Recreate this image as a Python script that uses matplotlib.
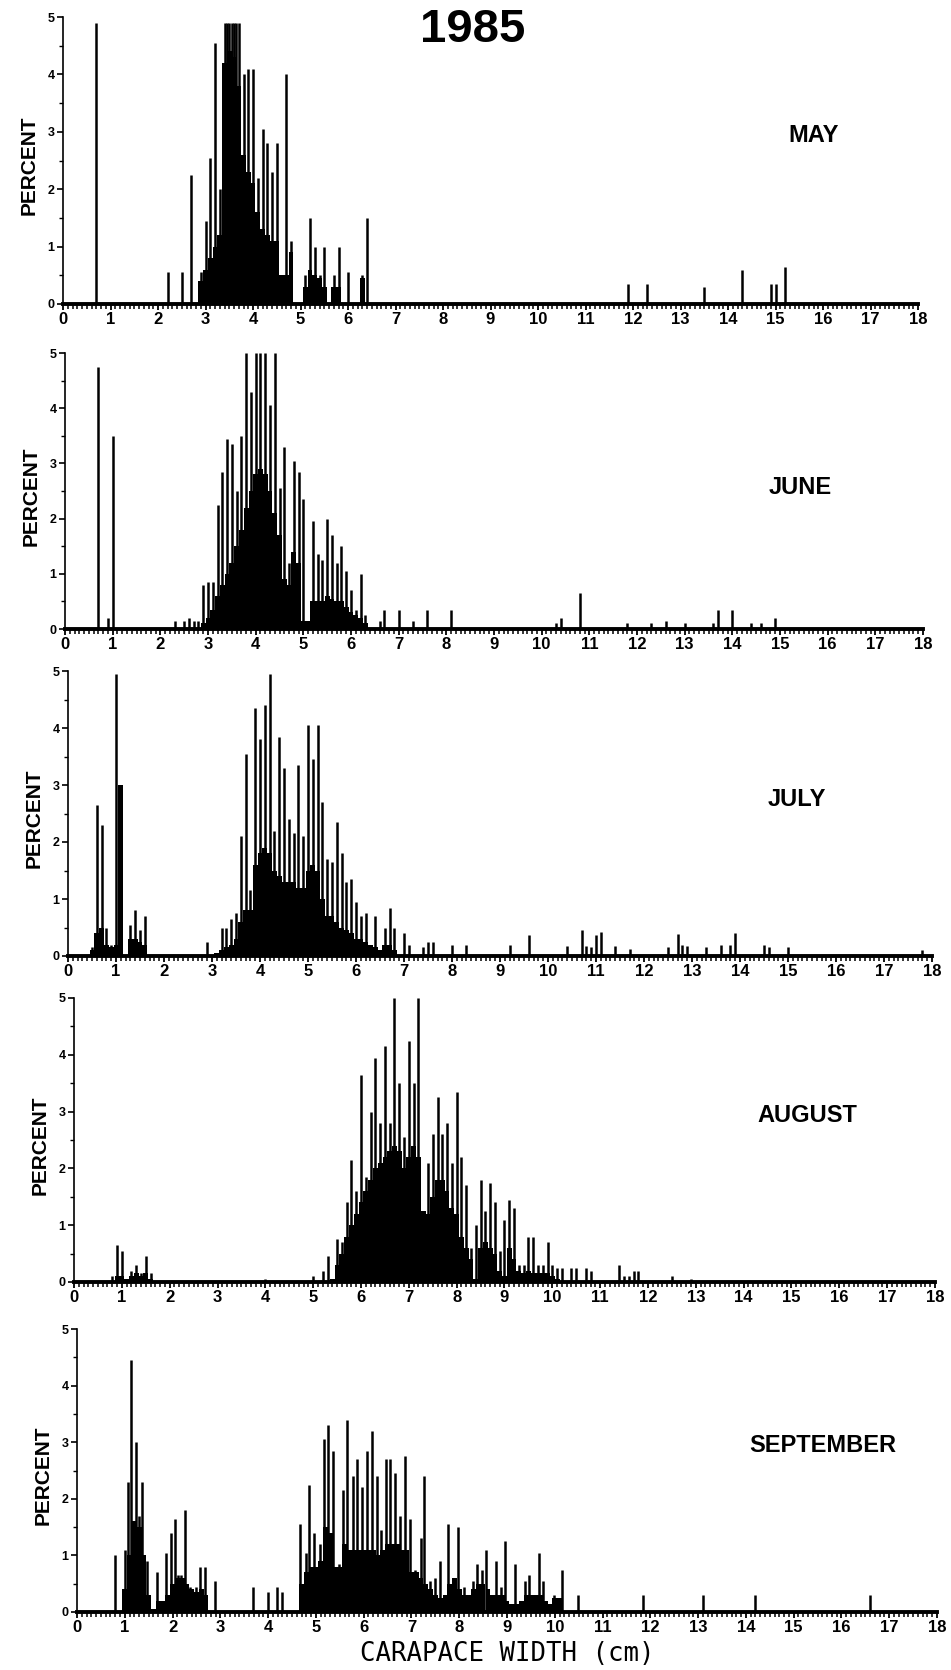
import matplotlib
matplotlib.use("Agg")
import matplotlib.pyplot as plt
from matplotlib.ticker import MultipleLocator
import numpy as np

# carapace width histograms, percent per size class, 1985 samples
months = ["MAY", "JUNE", "JULY", "AUGUST", "SEPTEMBER"]

# ---- May ----
may_spike_x = [0.7, 2.2, 2.5, 2.7, 2.9, 3.0, 3.1, 3.2, 3.3, 3.4, 3.45, 3.5, 3.55, 3.6, 3.65, 3.7,
               3.8, 3.9, 4.0, 4.1, 4.2, 4.3, 4.4, 4.5, 4.7, 4.8, 5.1, 5.2, 5.3, 5.4, 5.5, 5.7,
               5.8, 6.0, 6.3, 6.4, 11.9, 12.3, 13.5, 14.3, 14.9, 15.0, 15.2]
may_spike_h = [4.9, 0.55, 0.55, 2.25, 0.55, 1.45, 2.55, 4.55, 2.0, 4.9, 4.9, 4.9, 4.9, 4.9, 4.9, 4.9,
               4.0, 4.1, 4.1, 2.2, 3.05, 2.8, 2.3, 2.8, 4.0, 1.1, 0.5, 1.5, 1.0, 0.5, 1.0, 0.5,
               1.0, 0.55, 0.5, 1.5, 0.35, 0.35, 0.3, 0.6, 0.35, 0.35, 0.65]
may_body = [(2.9, [0.4, 0.6, 0.8, 1.0, 1.2, 4.2, 4.4, 4.3, 3.8, 2.6, 2.3, 2.1, 1.6, 1.3, 1.2,
                   1.1, 1.1, 0.5, 0.5, 0.9]),
            (5.1, [0.3, 0.6, 0.5, 0.45, 0.3, 0.0, 0.3, 0.3]),
            (6.3, [0.45])]

# ---- June ----
jun_spike_x = [0.7, 0.9, 1.0, 2.3, 2.5, 2.6, 2.7, 2.8, 2.9, 3.0, 3.1, 3.2, 3.3, 3.4, 3.5, 3.6,
               3.7, 3.8, 3.9, 4.0, 4.1, 4.2, 4.3, 4.4, 4.5, 4.6, 4.7, 4.8, 4.9, 5.0, 5.2, 5.3,
               5.4, 5.5, 5.6, 5.7, 5.8, 5.9, 6.0, 6.1, 6.2, 6.3, 6.6, 6.7, 7.0, 7.3, 7.6, 8.1,
               10.3, 10.4, 10.8, 11.8, 12.3, 12.6, 13.0, 13.6, 13.7, 14.0, 14.4, 14.6, 14.9]
jun_spike_h = [4.75, 0.2, 3.5, 0.15, 0.15, 0.2, 0.15, 0.15, 0.8, 0.85, 0.85, 2.25, 2.85, 3.45, 3.35, 2.5,
               3.5, 5.0, 4.3, 5.0, 5.0, 5.0, 4.05, 5.0, 2.55, 3.3, 1.2, 3.05, 2.85, 2.35, 1.95, 1.35,
               1.25, 2.0, 1.7, 1.2, 1.5, 1.05, 0.7, 0.35, 1.0, 0.25, 0.15, 0.35, 0.35, 0.15, 0.35, 0.35,
               0.1, 0.2, 0.65, 0.1, 0.1, 0.15, 0.1, 0.1, 0.35, 0.35, 0.1, 0.1, 0.2]
jun_body = [(2.9, [0.1, 0.2, 0.35, 0.6, 0.8, 1.0, 1.2, 1.5, 1.8, 2.2, 2.5, 2.8, 2.9, 2.8, 2.5,
                   2.1, 1.7, 0.9, 0.8, 1.4, 1.2, 0.15, 0.15, 0.5, 0.5, 0.5, 0.6, 0.55, 0.5, 0.5,
                   0.4, 0.3, 0.25, 0.2, 0.1])]

# ---- July ----
jul_spike_x = [0.5, 0.6, 0.7, 0.8, 0.9, 1.0, 1.3, 1.4, 1.5, 1.6, 2.9, 3.2, 3.3, 3.4, 3.5, 3.6,
               3.7, 3.8, 3.9, 4.0, 4.1, 4.2, 4.3, 4.4, 4.5, 4.6, 4.7, 4.8, 4.9, 5.0, 5.1, 5.2,
               5.3, 5.4, 5.5, 5.6, 5.7, 5.8, 5.9, 6.0, 6.1, 6.2, 6.4, 6.6, 6.7, 6.8, 7.0, 7.1,
               7.4, 7.5, 7.6, 8.0, 8.3, 9.2, 9.6, 10.4, 10.7, 10.8, 10.9, 11.0, 11.1, 11.4, 11.7,
               12.5, 12.7, 12.8, 12.9, 13.3, 13.6, 13.8, 13.9, 14.5, 14.6, 15.0, 17.8]
jul_spike_h = [0.15, 2.65, 2.3, 0.5, 0.2, 4.95, 0.55, 0.8, 0.45, 0.7, 0.25, 0.5, 0.5, 0.65, 0.75, 2.1,
               3.55, 1.15, 4.35, 3.8, 4.4, 4.95, 2.2, 3.85, 3.3, 2.4, 2.15, 3.35, 2.1, 4.05, 3.45, 4.05,
               2.7, 1.7, 1.65, 2.35, 1.8, 1.3, 1.35, 0.95, 0.7, 0.75, 0.7, 0.5, 0.85, 0.5, 0.4, 0.2,
               0.15, 0.25, 0.25, 0.2, 0.2, 0.19, 0.37, 0.18, 0.45, 0.18, 0.15, 0.37, 0.42, 0.18, 0.13,
               0.15, 0.38, 0.2, 0.18, 0.15, 0.2, 0.2, 0.4, 0.2, 0.15, 0.15, 0.1]
jul_body = [(0.5, [0.1, 0.4, 0.5, 0.2, 0.15, 0.2, 3.0, 0.0, 0.3, 0.3, 0.25, 0.2]),
            (3.1, [0.05, 0.1, 0.15, 0.2, 0.3, 0.6, 0.8, 0.8, 1.6, 1.8, 1.9, 1.8, 1.5, 1.4, 1.3,
                   1.3, 1.3, 1.2, 1.2, 1.5, 1.6, 1.5, 1.0, 0.7, 0.7, 0.6, 0.5, 0.45, 0.4, 0.3,
                   0.3, 0.25, 0.2, 0.15, 0.1, 0.2, 0.2, 0.1])]

# ---- August ----
aug_spike_x = [0.8, 0.9, 1.0, 1.2, 1.3, 1.4, 1.5, 1.6, 4.0, 5.0, 5.2, 5.3, 5.5, 5.6, 5.7, 5.8,
               5.9, 6.0, 6.1, 6.2, 6.3, 6.4, 6.5, 6.6, 6.7, 6.8, 6.9, 7.0, 7.1, 7.2, 7.3, 7.4,
               7.5, 7.6, 7.7, 7.8, 7.9, 8.0, 8.1, 8.2, 8.3, 8.4, 8.5, 8.6, 8.7, 8.8, 8.9, 9.0,
               9.1, 9.2, 9.3, 9.4, 9.5, 9.6, 9.7, 9.8, 9.9, 10.0, 10.1, 10.2, 10.4, 10.5, 10.7,
               10.8, 11.4, 11.5, 11.6, 11.7, 11.8, 12.5, 12.9]
aug_spike_h = [0.1, 0.65, 0.55, 0.2, 0.3, 0.15, 0.45, 0.15, 0.05, 0.1, 0.2, 0.45, 0.75, 0.7, 1.4, 2.15,
               1.6, 3.65, 1.85, 3.0, 3.95, 2.8, 4.15, 2.8, 5.0, 3.5, 2.55, 4.25, 3.5, 5.0, 1.25, 2.1,
               2.6, 3.25, 2.6, 2.8, 2.1, 3.35, 2.2, 1.7, 0.6, 1.0, 1.8, 1.25, 1.75, 1.4, 0.55, 1.1,
               1.45, 1.3, 0.3, 0.3, 0.8, 0.8, 0.3, 0.3, 0.7, 0.3, 0.25, 0.25, 0.25, 0.25, 0.25,
               0.2, 0.3, 0.1, 0.1, 0.2, 0.2, 0.1, 0.05]
aug_body = [(0.9, [0.1, 0.1, 0.05, 0.1, 0.15, 0.1, 0.15, 0.05]),
            (5.4, [0.05, 0.3, 0.5, 0.8, 1.0, 1.2, 1.4, 1.6, 1.8, 2.0, 2.1, 2.2, 2.3, 2.4, 2.3,
                   2.0, 2.2, 2.4, 2.2, 1.25, 1.2, 1.5, 1.8, 1.8, 1.6, 1.3, 1.2, 0.8, 0.6, 0.4,
                   0.05, 0.6, 0.7, 0.6, 0.5, 0.2, 0.1, 0.6, 0.4, 0.2, 0.15, 0.2, 0.15, 0.15, 0.15,
                   0.15, 0.1, 0.05])]

# ---- September ----
sep_spike_x = [0.8, 1.0, 1.06, 1.13, 1.24, 1.3, 1.36, 1.47, 1.68, 1.75, 1.8, 1.87, 1.97, 2.06, 2.12,
               2.17, 2.26, 2.36, 2.4, 2.5, 2.57, 2.68, 2.89, 3.68, 3.99, 4.19, 4.29, 4.67, 4.79,
               4.86, 4.97, 5.08, 5.17, 5.25, 5.36, 5.48, 5.57, 5.66, 5.77, 5.87, 5.97, 6.07, 6.17,
               6.27, 6.37, 6.47, 6.56, 6.66, 6.77, 6.87, 6.97, 7.08, 7.19, 7.27, 7.39, 7.49, 7.59,
               7.77, 7.98, 8.09, 8.28, 8.37, 8.48, 8.57, 8.76, 8.88, 8.96, 9.16, 9.38, 9.47, 9.66,
               9.75, 9.98, 10.16, 10.49, 11.85, 13.1, 14.2, 16.6]
sep_spike_h = [1.0, 1.1, 2.3, 4.45, 3.0, 1.7, 2.3, 0.9, 0.7, 0.2, 0.2, 1.05, 1.4, 1.65, 0.65,
               0.65, 1.8, 0.45, 0.4, 0.45, 0.8, 0.8, 0.55, 0.45, 0.35, 0.45, 0.35, 1.55, 1.05,
               2.25, 1.4, 1.2, 3.05, 3.3, 2.85, 0.85, 2.15, 3.4, 2.4, 2.7, 2.2, 2.85, 3.2,
               2.4, 1.45, 2.7, 2.7, 2.45, 1.7, 2.75, 1.65, 0.75, 1.3, 2.4, 0.55, 0.6, 0.9,
               1.55, 1.5, 0.45, 0.55, 0.85, 0.75, 1.1, 0.9, 0.45, 1.25, 0.85, 0.55, 0.65, 1.05,
               0.55, 0.3, 0.75, 0.3, 0.3, 0.3, 0.3, 0.3]
sep_body = [(1.0, [0.4, 1.0, 1.6, 1.5, 1.0, 0.3, 0.05, 0.2, 0.2, 0.3, 0.5, 0.6, 0.6, 0.5, 0.4,
                   0.35, 0.4, 0.3]),
            (4.7, [0.5, 0.7, 0.8, 0.8, 0.9, 1.5, 1.4, 0.8, 0.8, 1.2, 1.1, 1.1, 1.1, 1.1, 1.1,
                   1.1, 1.0, 1.1, 1.2, 1.2, 1.2, 1.1, 1.1, 0.7, 0.7, 0.6, 0.5, 0.4, 0.3, 0.25,
                   0.3, 0.5, 0.6, 0.4, 0.3, 0.3, 0.4, 0.5, 0.5, 0.4, 0.3, 0.3, 0.3, 0.2, 0.15,
                   0.15, 0.2, 0.3, 0.3, 0.3, 0.3, 0.2, 0.15, 0.25, 0.25])]

spikes_x = [may_spike_x, jun_spike_x, jul_spike_x, aug_spike_x, sep_spike_x]
spikes_h = [may_spike_h, jun_spike_h, jul_spike_h, aug_spike_h, sep_spike_h]
bodies = [may_body, jun_body, jul_body, aug_body, sep_body]

W, H = 951, 1670
# panel frames in pixels: left, right, top (y=5), bottom (y=0)
frames = [(63, 918, 17, 304), (65, 923, 353, 629), (68, 932, 671, 956),
          (74, 935, 998, 1282), (77, 937, 1329, 1612)]
label_pos = [(814, 136), (800, 488), (797, 800), (807, 1116), (823, 1446)]

bold = ['Liberation Sans', 'DejaVu Sans']
narrow = ['Liberation Sans Narrow', 'Liberation Sans', 'DejaVu Sans']

fig = plt.figure(figsize=(W / 100, H / 100), dpi=100)

for i in range(5):
    l, r, t, b = frames[i]
    ax = fig.add_axes([l / W, 1 - b / H, (r - l) / W, (b - t) / H])
    for start, vals in bodies[i]:
        xs = start + 0.1 * np.arange(len(vals))
        ax.bar(xs, vals, width=0.1, color='black', linewidth=0)
    ax.vlines(spikes_x[i], 0, spikes_h[i], color='black', linewidth=1.8)

    ax.set_xlim(0, 18)
    ax.set_ylim(0, 5)
    ax.spines['top'].set_visible(False)
    ax.spines['right'].set_visible(False)
    ax.spines['left'].set_linewidth(1.2)
    ax.spines['bottom'].set_linewidth(2.8)
    ax.xaxis.set_major_locator(MultipleLocator(1))
    ax.xaxis.set_minor_locator(MultipleLocator(0.1))
    ax.yaxis.set_major_locator(MultipleLocator(1))
    ax.yaxis.set_minor_locator(MultipleLocator(0.5))
    ax.tick_params(axis='x', which='major', length=4, width=1.3, pad=2)
    ax.tick_params(axis='x', which='minor', length=3.5, width=1.1)
    ax.tick_params(axis='y', which='major', length=4, width=1.2, pad=2)
    ax.tick_params(axis='y', which='minor', length=3, width=1.0)
    ax.set_xticks(range(0, 19))
    ax.set_xticklabels([str(v) for v in range(0, 19)], fontsize=12,
                       fontweight='bold', family=narrow)
    ax.set_yticks(range(0, 6))
    ax.set_yticklabels([str(v) for v in range(0, 6)], fontsize=9,
                       fontweight='bold', family=narrow)

    fig.text((l - 34) / W, 1 - ((t + b) / 2 + 5) / H, 'PERCENT', rotation=90,
             ha='center', va='center', fontsize=15, fontweight='bold', family=bold)
    lx, ly = label_pos[i]
    fig.text(lx / W, 1 - ly / H, months[i], ha='center', va='center',
             fontsize=17, fontweight='bold', family=bold)

fig.text(473 / W, 1 - 30 / H, '1985', ha='center', va='center',
         fontsize=34, fontweight='bold', family=bold)
fig.text(507 / W, 1 - 1654 / H, 'CARAPACE WIDTH (cm)', ha='center', va='center',
         fontsize=18.5, family=['DejaVu Sans Mono'])

fig.savefig('out.png', dpi=100, facecolor='white')
